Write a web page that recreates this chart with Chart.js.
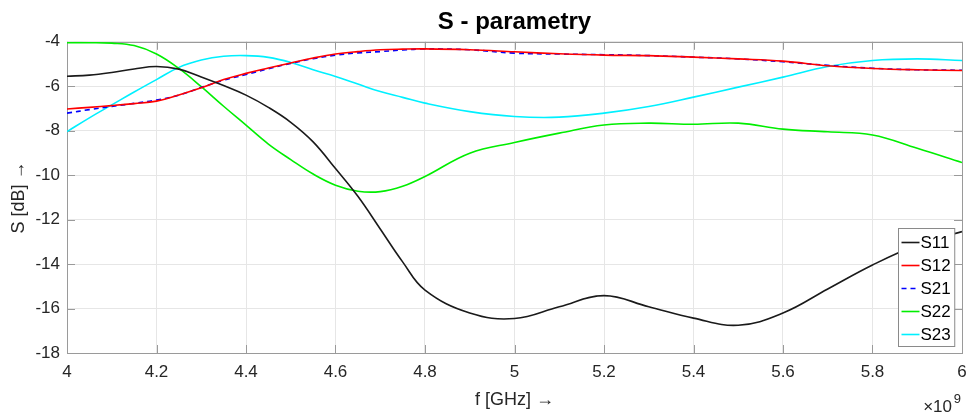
<!DOCTYPE html>
<html>
<head>
<meta charset="utf-8">
<script src="https://cdn.jsdelivr.net/npm/chart.js@4.4.1/dist/chart.umd.min.js"></script>
<style>
  html, body { margin: 0; padding: 0; background: #fff; }
  #wrap { width: 969px; height: 414px; }
</style>
</head>
<body>
<div id="wrap"><canvas id="sChart"></canvas></div>
<script>
// frequency samples in GHz (axis shows them with a x10^9 multiplier)
const freqGHz = [4.0, 4.05, 4.1, 4.15, 4.2, 4.25, 4.3, 4.35, 4.4, 4.45, 4.5, 4.55, 4.6, 4.65, 4.7, 4.75, 4.8,
                 4.9, 5.0, 5.1, 5.2, 5.3, 5.4, 5.5, 5.6, 5.7, 5.8, 5.9, 6.0];

// S-parameter magnitudes in dB
const s11 = [-5.55, -5.5, -5.38, -5.22, -5.11, -5.23, -5.58, -5.97, -6.4, -6.95, -7.62, -8.5, -9.7, -10.95, -12.42, -13.9, -15.17,
             -16.2, -16.45, -15.92, -15.42, -15.92, -16.43, -16.75, -16.2, -15.12, -14.04, -13.14, -12.54];
const s12 = [-7.02, -6.95, -6.87, -6.78, -6.67, -6.39, -6.07, -5.7, -5.42, -5.18, -4.95, -4.73, -4.55, -4.44, -4.36, -4.33, -4.32,
             -4.36, -4.45, -4.54, -4.6, -4.62, -4.69, -4.77, -4.87, -5.08, -5.2, -5.26, -5.29];
const s21 = [-7.21, -7.05, -6.91, -6.77, -6.62, -6.4, -6.05, -5.73, -5.47, -5.21, -4.97, -4.76, -4.6, -4.5, -4.44, -4.37, -4.32,
             -4.36, -4.51, -4.55, -4.58, -4.62, -4.69, -4.77, -4.9, -5.06, -5.19, -5.26, -5.28];
const s22 = [-4.04, -4.04, -4.06, -4.17, -4.55, -5.2, -6.02, -6.9, -7.75, -8.6, -9.3, -9.95, -10.45, -10.72, -10.74, -10.5, -10.06,
             -9.01, -8.53, -8.11, -7.74, -7.66, -7.71, -7.66, -7.93, -8.05, -8.19, -8.79, -9.43];
const s23 = [-8.04, -7.42, -6.84, -6.26, -5.7, -5.15, -4.82, -4.65, -4.62, -4.7, -4.93, -5.26, -5.56, -5.9, -6.24, -6.5, -6.76,
             -7.14, -7.36, -7.39, -7.21, -6.91, -6.49, -6.04, -5.59, -5.11, -4.84, -4.77, -4.84];

const seriesNames = ['S11', 'S12', 'S21', 'S22', 'S23'];
const seriesValues = [s11, s12, s21, s22, s23];
const seriesColors = ['#1a1a1a', '#ff0000', '#0000ff', '#00ee00', '#00f0ff'];

const yTicks = [-18, -16, -14, -12, -10, -8, -6, -4];
const xTicks = [4, 4.2, 4.4, 4.6, 4.8, 5, 5.2, 5.4, 5.6, 5.8, 6];

const FONT = "'Liberation Sans', Arial, sans-serif";

const datasets = seriesNames.map((name, i) => ({
    label: name,
    data: freqGHz.map((f, j) => ({ x: f, y: seriesValues[i][j] })),
    borderColor: seriesColors[i],
    backgroundColor: seriesColors[i],
    borderWidth: 1.6,
    borderDash: name === 'S21' ? [5, 4] : [],
    pointRadius: 0,
    tension: 0.4,
    fill: false
}));

// box around the axes with inward tick marks on all four sides
const framePlugin = {
    id: 'frame',
    beforeDatasetsDraw(chart) {
        const { ctx, chartArea: a, scales } = chart;
        const len = 8;
        ctx.save();
        ctx.strokeStyle = '#9a9a9a';
        ctx.lineWidth = 1;
        ctx.beginPath();
        xTicks.forEach(v => {
            const px = Math.round(scales.x.getPixelForValue(v)) + 0.5;
            ctx.moveTo(px, a.bottom); ctx.lineTo(px, a.bottom - len);
            ctx.moveTo(px, a.top); ctx.lineTo(px, a.top + len);
        });
        yTicks.forEach(v => {
            const py = Math.round(scales.y.getPixelForValue(v)) + 0.5;
            ctx.moveTo(a.left, py); ctx.lineTo(a.left + len, py);
            ctx.moveTo(a.right, py); ctx.lineTo(a.right - len, py);
        });
        ctx.stroke();
        ctx.strokeRect(Math.round(a.left) + 0.5, Math.round(a.top) + 0.5,
                       Math.round(a.right - a.left), Math.round(a.bottom - a.top));
        ctx.restore();
    }
};

// legend box in the lower right corner of the plot + the x10^9 multiplier
const legendPlugin = {
    id: 'boxLegend',
    afterDraw(chart) {
        const { ctx, chartArea: a } = chart;
        ctx.save();
        ctx.font = '17px ' + FONT;
        const textW = Math.max(...seriesNames.map(n => ctx.measureText(n).width));
        const rowH = 23;
        const boxW = 3 + 18 + 1 + textW + 4;
        const boxH = rowH * seriesNames.length + 3;
        const bx = Math.round(a.right - 8 - boxW) + 0.5;
        const by = Math.round(a.bottom - 7 - boxH) + 0.5;
        ctx.fillStyle = '#fff';
        ctx.fillRect(bx, by, boxW, boxH);
        ctx.strokeStyle = '#8a8a8a';
        ctx.lineWidth = 1;
        ctx.strokeRect(bx, by, boxW, boxH);
        ctx.textBaseline = 'middle';
        chart.data.datasets.forEach((ds, i) => {
            const cy = by + 14 + i * rowH;
            ctx.strokeStyle = ds.borderColor;
            ctx.lineWidth = 1.6;
            ctx.setLineDash(ds.borderDash);
            ctx.beginPath();
            ctx.moveTo(bx + 3, cy);
            ctx.lineTo(bx + 21, cy);
            ctx.stroke();
            ctx.setLineDash([]);
            ctx.fillStyle = '#000';
            ctx.fillText(ds.label, bx + 22, cy + 1);
        });

        ctx.fillStyle = '#262626';
        ctx.textBaseline = 'alphabetic';
        ctx.textAlign = 'right';
        ctx.font = '17px ' + FONT;
        ctx.fillText('\u00d710', a.right - 10, 412);
        ctx.font = '13px ' + FONT;
        ctx.fillText('9', a.right - 1, 403);
        ctx.restore();
    }
};

const ctx = document.getElementById('sChart').getContext('2d');
new Chart(ctx, {
    type: 'line',
    data: { datasets },
    options: {
        responsive: true,
        maintainAspectRatio: false,
        animation: false,
        layout: { padding: 0 },
        plugins: {
            legend: { display: false },
            tooltip: { enabled: false },
            title: {
                display: true,
                fullSize: false, // center over the plot area, not the whole canvas
                text: 'S - parametry',
                color: '#000',
                font: { family: FONT, size: 24, weight: 'bold' },
                padding: { top: 8, bottom: 5 }
            }
        },
        scales: {
            x: {
                type: 'linear',
                min: 4,
                max: 6,
                afterFit: s => { s.height = 61; s.paddingLeft = 0; s.paddingRight = 7; },
                afterBuildTicks: s => { s.ticks = xTicks.map(v => ({ value: v })); },
                ticks: {
                    color: '#262626',
                    font: { family: FONT, size: 17 },
                    padding: 9,
                    maxRotation: 0,
                    callback: v => String(+v.toFixed(1))
                },
                grid: { color: '#e6e6e6', drawTicks: false },
                border: { display: false },
                title: {
                    display: true,
                    text: 'f [GHz] \u2192',
                    color: '#262626',
                    font: { family: FONT, size: 18 },
                    padding: { top: 0, bottom: 3 }
                }
            },
            y: {
                min: -18,
                max: -4,
                afterFit: s => { s.width = 67; },
                afterBuildTicks: s => { s.ticks = yTicks.map(v => ({ value: v })); },
                ticks: {
                    color: '#262626',
                    font: { family: FONT, size: 17 },
                    padding: 7
                },
                grid: { color: '#e6e6e6', drawTicks: false },
                border: { display: false },
                title: {
                    display: true,
                    text: 'S [dB] \u2192',
                    color: '#262626',
                    font: { family: FONT, size: 18 },
                    padding: { top: 8, bottom: 0 }
                }
            }
        }
    },
    plugins: [framePlugin, legendPlugin]
});
</script>
</body>
</html>
